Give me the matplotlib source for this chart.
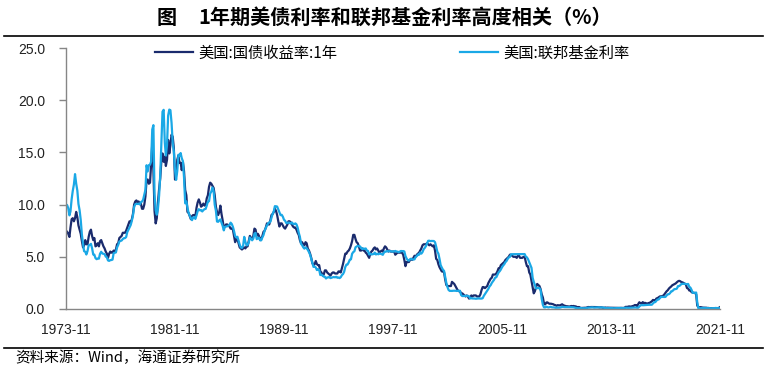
import matplotlib
matplotlib.use('Agg')
import matplotlib.pyplot as plt
from matplotlib.lines import Line2D
import pandas as pd

# monthly data, 1973-11 .. 2021-11
start_month = '1973-11-01'

treasury_1y = [
    7.5, 7.4,
    7.2, 6.9, 7.8, 8.6, 8.7, 8.4, 8.7, 9.3, 8.8, 8.0, 7.6, 7.2,
    6.5, 5.9, 6.1, 6.6, 6.2, 6.2, 6.9, 7.4, 7.6, 7.0, 6.6, 6.8,
    6.0, 6.1, 6.3, 6.0, 6.5, 6.6, 6.3, 6.0, 5.8, 5.5, 5.3, 4.9,
    5.3, 5.5, 5.4, 5.4, 5.6, 5.5, 5.7, 6.2, 6.3, 6.8, 6.9, 7.0,
    7.3, 7.3, 7.3, 7.5, 7.8, 8.1, 8.4, 8.3, 8.6, 9.1, 10.0, 10.3,
    10.4, 10.2, 10.3, 10.1, 10.1, 9.6, 9.6, 10.0, 10.8, 12.4, 12.4, 12.0,
    12.1, 13.9, 15.8, 13.3, 9.4, 8.2, 8.7, 10.2, 11.5, 12.5, 14.2, 14.9,
    14.1, 14.6, 13.7, 14.3, 16.2, 14.9, 15.7, 16.7, 16.5, 15.4, 12.4, 12.9,
    14.3, 14.7, 14.0, 14.0, 13.3, 14.1, 13.2, 11.4, 10.9, 9.3, 9.2, 8.9,
    8.6, 8.9, 9.0, 9.0, 8.9, 9.7, 10.2, 10.5, 10.2, 9.8, 9.9, 10.1,
    9.9, 10.0, 10.6, 10.9, 11.7, 12.1, 12.0, 11.8, 11.6, 10.9, 9.8, 9.3,
    9.0, 9.3, 9.9, 9.1, 8.5, 7.8, 7.9, 8.1, 8.1, 8.0, 7.9, 7.7,
    7.7, 7.6, 7.0, 6.4, 6.7, 6.7, 6.3, 5.9, 5.8, 5.7, 5.8, 5.9,
    5.8, 6.0, 6.0, 6.5, 7.0, 6.8, 6.7, 7.0, 7.7, 7.6, 7.0, 7.2,
    7.0, 6.6, 6.7, 7.0, 7.4, 7.5, 7.8, 8.2, 8.1, 8.1, 8.5, 9.0,
    9.1, 9.3, 9.6, 9.4, 9.0, 8.4, 7.9, 8.2, 8.2, 8.0, 7.8, 7.7,
    7.9, 8.1, 8.4, 8.4, 8.3, 8.1, 7.9, 7.8, 7.8, 7.6, 7.3, 7.1,
    6.6, 6.3, 6.4, 6.2, 6.1, 6.4, 6.3, 5.8, 5.6, 5.3, 4.9, 4.4,
    4.2, 4.3, 4.6, 4.3, 4.2, 4.2, 3.6, 3.5, 3.2, 3.3, 3.7, 3.7,
    3.5, 3.4, 3.3, 3.2, 3.4, 3.5, 3.5, 3.4, 3.4, 3.4, 3.6, 3.6,
    3.5, 3.9, 4.3, 4.8, 5.3, 5.3, 5.5, 5.6, 5.8, 6.1, 6.5, 7.1,
    7.1, 6.7, 6.4, 6.3, 6.0, 5.6, 5.6, 5.8, 5.6, 5.6, 5.4, 5.3,
    5.1, 4.9, 5.3, 5.5, 5.6, 5.8, 5.9, 5.7, 5.8, 5.6, 5.4, 5.5,
    5.6, 5.5, 5.8, 6.0, 5.9, 5.7, 5.5, 5.6, 5.5, 5.5, 5.5, 5.5,
    5.2, 5.3, 5.4, 5.4, 5.4, 5.4, 5.4, 5.2, 4.7, 4.1, 4.5, 4.5,
    4.5, 4.7, 4.8, 4.7, 4.9, 5.1, 5.0, 5.2, 5.3, 5.4, 5.6, 5.8,
    6.1, 6.2, 6.2, 6.2, 6.3, 6.2, 6.1, 6.2, 6.1, 6.0, 6.1, 5.6,
    4.8, 4.7, 4.3, 4.0, 3.8, 3.6, 3.6, 3.5, 2.8, 2.3, 2.2, 2.2,
    2.2, 2.2, 2.6, 2.5, 2.4, 2.2, 2.0, 1.8, 1.7, 1.7, 1.5, 1.5,
    1.4, 1.3, 1.2, 1.3, 1.2, 1.0, 1.1, 1.3, 1.2, 1.3, 1.3, 1.3,
    1.2, 1.2, 1.2, 1.4, 1.8, 2.1, 2.1, 2.0, 2.1, 2.2, 2.5, 2.7,
    2.9, 3.0, 3.3, 3.3, 3.3, 3.4, 3.6, 3.9, 3.9, 4.2, 4.3, 4.4,
    4.5, 4.7, 4.8, 4.9, 5.0, 5.2, 5.2, 5.1, 5.0, 5.0, 5.0, 4.9,
    5.1, 5.1, 4.9, 4.9, 4.9, 5.0, 5.0, 4.5, 4.1, 4.1, 3.5, 3.3,
    2.7, 2.1, 1.5, 1.7, 2.1, 2.4, 2.3, 2.2, 1.9, 1.4, 1.1, 0.5,
    0.44, 0.62, 0.64, 0.55, 0.50, 0.51, 0.48, 0.46, 0.40, 0.37, 0.31, 0.37,
    0.35, 0.35, 0.40, 0.45, 0.37, 0.32, 0.29, 0.26, 0.26, 0.23, 0.25, 0.29,
    0.27, 0.29, 0.26, 0.25, 0.19, 0.18, 0.19, 0.11, 0.10, 0.11, 0.11, 0.12,
    0.12, 0.16, 0.19, 0.18, 0.19, 0.19, 0.19, 0.18, 0.18, 0.18, 0.18, 0.16,
    0.15, 0.16, 0.15, 0.12, 0.12, 0.14, 0.12, 0.13, 0.12, 0.12, 0.12, 0.13,
    0.12, 0.12, 0.13, 0.11, 0.10, 0.10, 0.11, 0.11, 0.11, 0.10, 0.13, 0.21,
    0.20, 0.22, 0.25, 0.23, 0.24, 0.28, 0.30, 0.38, 0.37, 0.26, 0.48, 0.65,
    0.54, 0.53, 0.66, 0.56, 0.59, 0.55, 0.51, 0.57, 0.59, 0.66, 0.74, 0.87,
    0.83, 0.82, 1.01, 1.04, 1.12, 1.20, 1.22, 1.23, 1.28, 1.40, 1.56, 1.70,
    1.80, 1.96, 2.06, 2.15, 2.27, 2.33, 2.39, 2.45, 2.56, 2.65, 2.70, 2.66,
    2.58, 2.55, 2.49, 2.43, 2.34, 2.00, 1.96, 1.77, 1.80, 1.61, 1.57, 1.55,
    1.53, 1.41, 0.33, 0.18, 0.16, 0.18, 0.15, 0.13, 0.13, 0.13, 0.12, 0.10,
    0.10, 0.07, 0.08, 0.06, 0.05, 0.07, 0.08, 0.07, 0.08, 0.11, 0.18,
]

fed_funds = [
    10.03, 9.95,
    9.65, 8.97, 9.35, 10.51, 11.31, 11.93, 12.92, 12.01, 11.34, 10.06, 9.45, 8.53,
    7.13, 6.24, 5.54, 5.49, 5.22, 5.55, 6.10, 6.14, 6.24, 5.82, 5.22, 5.20,
    4.87, 4.77, 4.84, 4.82, 5.29, 5.48, 5.31, 5.29, 5.25, 5.02, 4.95, 4.65,
    4.61, 4.68, 4.69, 4.73, 5.35, 5.39, 5.42, 5.90, 6.14, 6.47, 6.51, 6.56,
    6.70, 6.78, 6.79, 6.89, 7.36, 7.60, 7.81, 8.04, 8.45, 8.96, 9.76, 10.03,
    10.07, 10.06, 10.09, 10.01, 10.24, 10.29, 10.47, 10.94, 11.43, 13.77, 13.18, 13.78,
    13.82, 14.13, 17.19, 17.61, 10.98, 9.47, 9.03, 9.61, 10.87, 12.81, 15.85, 18.90,
    19.08, 15.93, 14.70, 15.72, 18.52, 19.10, 19.04, 17.82, 15.87, 15.08, 13.31, 12.37,
    13.22, 14.78, 14.68, 14.94, 14.45, 14.15, 12.59, 10.12, 10.31, 9.71, 9.20, 8.95,
    8.68, 8.51, 8.77, 8.80, 8.63, 8.98, 9.37, 9.56, 9.45, 9.48, 9.34, 9.47,
    9.56, 9.59, 9.91, 10.29, 10.32, 11.06, 11.23, 11.64, 11.30, 9.99, 9.43, 8.38,
    8.35, 8.50, 8.58, 8.27, 7.97, 7.53, 7.88, 7.90, 7.92, 7.99, 8.05, 8.27,
    8.14, 7.86, 7.48, 6.99, 6.85, 6.92, 6.56, 6.17, 5.89, 5.85, 6.04, 6.91,
    6.43, 6.10, 6.13, 6.37, 6.85, 6.73, 6.58, 6.73, 7.22, 7.29, 6.69, 6.77,
    6.83, 6.58, 6.58, 6.87, 7.09, 7.51, 7.75, 8.01, 8.19, 8.30, 8.35, 8.76,
    9.12, 9.36, 9.85, 9.84, 9.81, 9.53, 9.24, 8.99, 9.02, 8.84, 8.55, 8.45,
    8.23, 8.24, 8.28, 8.26, 8.18, 8.29, 8.15, 8.13, 8.20, 8.11, 7.81, 7.31,
    6.91, 6.25, 6.12, 5.91, 5.78, 5.90, 5.82, 5.66, 5.45, 5.21, 4.81, 4.43,
    4.03, 4.06, 3.98, 3.73, 3.82, 3.76, 3.25, 3.30, 3.22, 3.10, 3.09, 2.92,
    3.02, 3.03, 3.07, 2.96, 3.00, 3.04, 3.06, 3.03, 3.09, 2.99, 3.02, 2.96,
    3.05, 3.25, 3.34, 3.56, 4.01, 4.25, 4.26, 4.47, 4.73, 4.76, 5.29, 5.45,
    5.53, 5.92, 5.98, 6.05, 6.01, 6.00, 5.85, 5.74, 5.80, 5.76, 5.80, 5.60,
    5.56, 5.22, 5.31, 5.22, 5.24, 5.27, 5.40, 5.22, 5.30, 5.24, 5.31, 5.29,
    5.25, 5.19, 5.39, 5.51, 5.50, 5.56, 5.52, 5.54, 5.54, 5.50, 5.52, 5.50,
    5.56, 5.51, 5.49, 5.45, 5.49, 5.56, 5.54, 5.55, 5.51, 5.07, 4.83, 4.68,
    4.63, 4.76, 4.81, 4.74, 4.74, 4.76, 4.99, 5.07, 5.22, 5.20, 5.42, 5.30,
    5.45, 5.73, 5.85, 6.02, 6.27, 6.53, 6.54, 6.50, 6.52, 6.51, 6.51, 6.40,
    5.98, 5.49, 5.31, 4.80, 4.21, 3.97, 3.77, 3.65, 3.07, 2.49, 2.09, 1.82,
    1.73, 1.74, 1.73, 1.75, 1.75, 1.75, 1.73, 1.74, 1.75, 1.75, 1.34, 1.24,
    1.24, 1.26, 1.25, 1.26, 1.26, 1.22, 1.01, 1.03, 1.01, 1.01, 1.00, 0.98,
    1.00, 1.01, 1.00, 1.00, 1.00, 1.03, 1.26, 1.43, 1.61, 1.76, 1.93, 2.16,
    2.28, 2.50, 2.63, 2.79, 3.00, 3.04, 3.26, 3.50, 3.62, 3.78, 4.00, 4.16,
    4.29, 4.49, 4.59, 4.79, 4.94, 4.99, 5.24, 5.25, 5.25, 5.25, 5.25, 5.24,
    5.25, 5.26, 5.26, 5.25, 5.25, 5.25, 5.26, 5.02, 4.94, 4.76, 4.49, 4.24,
    3.94, 2.98, 2.61, 2.28, 1.98, 2.00, 2.01, 2.00, 1.81, 0.97, 0.39, 0.16,
    0.15, 0.22, 0.18, 0.15, 0.18, 0.21, 0.16, 0.16, 0.15, 0.12, 0.12, 0.12,
    0.11, 0.13, 0.16, 0.20, 0.20, 0.18, 0.18, 0.19, 0.19, 0.19, 0.19, 0.18,
    0.17, 0.16, 0.14, 0.10, 0.09, 0.09, 0.07, 0.10, 0.08, 0.07, 0.08, 0.07,
    0.08, 0.10, 0.13, 0.14, 0.16, 0.16, 0.16, 0.13, 0.14, 0.16, 0.16, 0.16,
    0.14, 0.15, 0.14, 0.15, 0.11, 0.09, 0.09, 0.08, 0.08, 0.09, 0.08, 0.09,
    0.07, 0.07, 0.08, 0.09, 0.09, 0.10, 0.09, 0.09, 0.09, 0.09, 0.09, 0.12,
    0.11, 0.11, 0.11, 0.12, 0.12, 0.13, 0.13, 0.14, 0.14, 0.12, 0.12, 0.24,
    0.34, 0.38, 0.36, 0.37, 0.37, 0.38, 0.39, 0.40, 0.40, 0.40, 0.41, 0.54,
    0.65, 0.66, 0.79, 0.90, 0.91, 1.04, 1.15, 1.16, 1.15, 1.15, 1.16, 1.30,
    1.41, 1.42, 1.51, 1.69, 1.70, 1.82, 1.91, 1.91, 1.95, 2.19, 2.20, 2.27,
    2.40, 2.40, 2.41, 2.42, 2.39, 2.38, 2.40, 2.13, 2.04, 1.83, 1.55, 1.55,
    1.55, 1.58, 0.65, 0.05, 0.05, 0.08, 0.09, 0.10, 0.09, 0.09, 0.09, 0.09,
    0.09, 0.08, 0.07, 0.07, 0.06, 0.08, 0.10, 0.09, 0.08, 0.08, 0.08,
]

series_names = ['美国:国债收益率:1年', '美国:联邦基金利率']
tick_dates = ['1973-11', '1981-11', '1989-11', '1997-11', '2005-11', '2013-11', '2021-11']
y_ticks = [0, 5, 10, 15, 20, 25]

CJK = ['Noto Sans CJK SC', 'DejaVu Sans']


def main():
    dates = pd.date_range(start_month, periods=len(treasury_1y), freq='MS')
    df = pd.DataFrame({'t1y': treasury_1y, 'ff': fed_funds}, index=dates)

    W, H = 768, 373
    fig = plt.figure(figsize=(W / 100, H / 100), dpi=100)
    ax = fig.add_axes([66 / W, 1 - 309 / H, (720 - 66) / W, (309 - 48) / H])

    ax.plot(df.index, df['t1y'], color='#1a2b6d', lw=1.6, label=series_names[0])
    ax.plot(df.index, df['ff'], color='#1aa8e6', lw=1.6, label=series_names[1])

    ax.set_ylim(0, 25)
    ax.set_xlim(df.index[0], df.index[-1])
    ax.set_yticks(y_ticks)
    ax.set_yticklabels([f'{v:.1f}' for v in y_ticks])
    ax.set_xticks(pd.to_datetime(tick_dates))
    ax.set_xticklabels(tick_dates)

    for s in ['top', 'right']:
        ax.spines[s].set_visible(False)
    for s in ['left', 'bottom']:
        ax.spines[s].set_color('#868686')
        ax.spines[s].set_linewidth(1.0)
    ax.tick_params(axis='y', length=5, width=1.0, color='#868686', pad=10,
                   labelsize=10, labelcolor='#222222')
    ax.tick_params(axis='x', length=0, pad=10, labelsize=10, labelcolor='#222222')
    for lab in ax.get_xticklabels() + ax.get_yticklabels():
        lab.set_family('Liberation Sans')

    leg = ax.legend(loc='center left', bbox_to_anchor=(155 / W, 1 - 53 / H),
                    bbox_transform=fig.transFigure, ncol=2, frameon=False,
                    borderpad=0, borderaxespad=0, handlelength=2.5,
                    handletextpad=0.35, columnspacing=8.0,
                    prop={'family': CJK, 'size': 11})
    for line in leg.get_lines():
        line.set_linewidth(1.6)

    # title and frame lines
    fig.text(157 / W, 1 - 17 / H, '图', family=CJK, fontsize=14.5,
             fontweight='bold', ha='left', va='center')
    fig.text(198 / W, 1 - 17 / H, '1年期美债利率和联邦基金利率高度相关（%）',
             family=CJK, fontsize=14.5, fontweight='bold', ha='left', va='center')
    fig.add_artist(Line2D([4 / W, 763 / W], [1 - 36 / H] * 2, color='black', lw=1.2))
    fig.add_artist(Line2D([4 / W, 763 / W], [1 - 347.5 / H] * 2, color='black', lw=1.2))
    fig.text(15 / W, 1 - 358 / H, '资料来源：Wind，海通证券研究所', family=CJK,
             fontsize=10.5, ha='left', va='center')

    fig.savefig('out.png', dpi=100)


if __name__ == '__main__':
    main()
